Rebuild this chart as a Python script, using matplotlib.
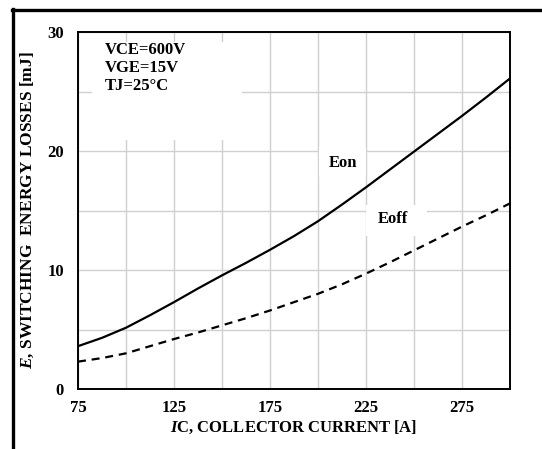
import matplotlib
matplotlib.use('Agg')
import matplotlib.pyplot as plt
from matplotlib.lines import Line2D
from matplotlib.patches import Rectangle

# switching energy vs collector current (VCE=600V, VGE=15V, TJ=25C)
ic = [75, 87.5, 100, 112.5, 125, 137.5, 150, 162.5, 175, 187.5,
      200, 212.5, 225, 237.5, 250, 262.5, 275, 287.5, 300]
e_on = [3.6, 4.3, 5.15, 6.2, 7.3, 8.45, 9.55, 10.6, 11.7, 12.85,
        14.1, 15.5, 16.95, 18.45, 19.95, 21.45, 22.95, 24.5, 26.1]
e_off = [2.3, 2.6, 3.0, 3.6, 4.2, 4.75, 5.35, 5.95, 6.6, 7.3,
         8.0, 8.8, 9.7, 10.65, 11.65, 12.65, 13.65, 14.6, 15.6]

x_ticks = [75, 125, 175, 225, 275]
y_ticks = [0, 10, 20, 30]
conditions = ["VCE=600V", "VGE=15V", "TJ=25°C"]

plt.rcParams['font.family'] = ['Liberation Serif', 'DejaVu Serif']
plt.rcParams['font.weight'] = 'bold'
plt.rcParams['mathtext.fontset'] = 'custom'
plt.rcParams['mathtext.it'] = 'Liberation Serif:italic:bold'
plt.rcParams['mathtext.rm'] = 'Liberation Serif:bold'

fs = 12

fig = plt.figure(figsize=(5.42, 4.49), dpi=100)
ax = fig.add_axes([0.1439, 0.1336, 0.7971, 0.7951])

# outer frame (left and top edges)
fig.add_artist(Line2D([13 / 542, 13 / 542], [0, 1 - 9 / 449], color='black', lw=2.4,
                      transform=fig.transFigure))
fig.add_artist(Line2D([12 / 542, 1], [1 - 10 / 449, 1 - 10 / 449], color='black', lw=2.4,
                      transform=fig.transFigure))

ax.set_xlim(75, 300)
ax.set_ylim(0, 30)
ax.set_xticks(x_ticks)
ax.set_yticks(y_ticks)
ax.set_xticks(range(100, 300, 25), minor=True)
ax.set_yticks(range(5, 30, 10), minor=True)
ax.grid(True, which='both', color='#d0d0d0', lw=1.0, zorder=0)
ax.set_axisbelow(True)
ax.tick_params(which='both', length=0, labelsize=fs)
ax.tick_params(axis='x', pad=8)
ax.tick_params(axis='y', pad=10)
for lbl in ax.get_xticklabels() + ax.get_yticklabels():
    lbl.set_fontweight('bold')
for sp in ax.spines.values():
    sp.set_linewidth(1.4)

# white patches that cut the grid behind the text
for x0, x1, y0, y1 in [(82.3, 160.4, 20.9, 29.2), (200.6, 225.0, 17.8, 20.3),
                       (225.0, 256.8, 12.9, 15.5)]:
    ax.add_patch(Rectangle((x0, y0), x1 - x0, y1 - y0, facecolor='white',
                           edgecolor='none', zorder=1))

ax.plot(ic, e_on, color='black', lw=1.6, zorder=3)
ax.plot(ic, e_off, color='black', lw=1.6, ls=(0, (3.6, 2.6)), zorder=3)

ax.text(89, 29.2, "\n".join(conditions), ha='left', va='top', fontsize=fs,
        fontweight='bold', linespacing=1.2, zorder=4)
ax.text(213, 19.0, "Eon", ha='center', va='center', fontsize=fs, fontweight='bold', zorder=4)
ax.text(239, 14.3, "Eoff", ha='center', va='center', fontsize=fs, fontweight='bold', zorder=4)

ax.set_xlabel(r"$\mathit{I}$C, COLLECTOR CURRENT [A]", fontsize=fs, fontweight='bold',
              labelpad=2)
ax.set_ylabel(r"$\mathit{E}$, SWITCHING  ENERGY LOSSES [mJ]", fontsize=fs + 0.5,
              fontweight='bold', labelpad=8)

fig.savefig('out.png', dpi=100)
plt.close(fig)
